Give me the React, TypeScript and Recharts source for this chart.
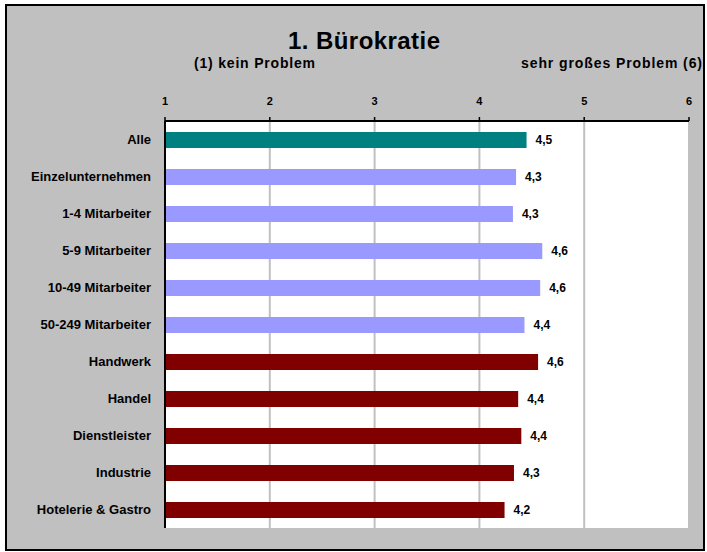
import React from 'react';
import { BarChart, Bar, XAxis, YAxis, CartesianGrid, Cell, LabelList } from 'recharts';

const categories = [
  'Alle',
  'Einzelunternehmen',
  '1-4 Mitarbeiter',
  '5-9 Mitarbeiter',
  '10-49 Mitarbeiter',
  '50-249 Mitarbeiter',
  'Handwerk',
  'Handel',
  'Dienstleister',
  'Industrie',
  'Hotelerie & Gastro',
];
const values = [4.45, 4.35, 4.32, 4.6, 4.58, 4.43, 4.56, 4.37, 4.4, 4.33, 4.24];
const groups = ['total', 'size', 'size', 'size', 'size', 'size', 'branch', 'branch', 'branch', 'branch', 'branch'];
const xTicks = [1, 2, 3, 4, 5, 6];
// category boundaries, Excel puts the y tick marks between the bars
const boundaryTicks = categories.map((_, i) => i).concat(categories.length);

const groupColors: Record<string, string> = {
  total: '#008080',
  size: '#9999ff',
  branch: '#800000',
};

const FONT = '"Liberation Sans", Arial, sans-serif';

const data = categories.map((name, i) => ({ name, value: values[i], group: groups[i] }));

const W = 707;
const H = 552;
const margin = { top: 91, right: 18, bottom: 24, left: 15 };

const fmt = (v: any) => Number(v).toFixed(1).replace('.', ',');

export default function App() {
  return (
    <div style={{ position: 'absolute', left: 0, top: 0, width: W, height: H, fontFamily: FONT }}>
      <div
        style={{
          position: 'absolute',
          left: 5,
          top: 4,
          width: 700,
          height: 547,
          boxSizing: 'border-box',
          border: '2.5px solid #000',
          background: '#c0c0c0',
        }}
      />
      <div style={{ position: 'absolute', left: 0, top: 0 }}>
        <BarChart width={W} height={H} data={data} layout="vertical" margin={margin}>
          <CartesianGrid horizontal={false} stroke="#c0c0c0" strokeWidth={2} fill="#ffffff" />
          <XAxis
            type="number"
            orientation="top"
            domain={[1, 6]}
            ticks={xTicks}
            allowDataOverflow
            height={30}
            axisLine={{ stroke: '#000', strokeWidth: 2 }}
            tickLine={{ stroke: '#000', strokeWidth: 1.5 }}
            tickSize={4}
            tickMargin={12}
            tick={{ fill: '#000', fontSize: 11, fontWeight: 'bold', fontFamily: FONT }}
          />
          <XAxis
            xAxisId="bottom"
            type="number"
            orientation="bottom"
            domain={[1, 6]}
            height={0}
            tick={false}
            tickLine={false}
            axisLine={{ stroke: '#8c8c8c', strokeWidth: 2.5 }}
          />
          <YAxis
            yAxisId="bounds"
            type="number"
            domain={[0, categories.length]}
            ticks={boundaryTicks}
            reversed
            width={0}
            tick={false}
            tickSize={6}
            tickLine={{ stroke: '#000', strokeWidth: 2 }}
            axisLine={false}
          />
          <YAxis
            type="category"
            dataKey="name"
            width={150}
            tickSize={5}
            tickMargin={9}
            tickLine={false}
            interval={0}
            axisLine={{ stroke: '#000', strokeWidth: 2 }}
            tick={{ fill: '#000', fontSize: 13, fontWeight: 'bold', fontFamily: FONT }}
          />
          <YAxis
            yAxisId="right"
            type="category"
            dataKey="name"
            orientation="right"
            width={0}
            tick={false}
            tickLine={false}
            axisLine={{ stroke: '#8c8c8c', strokeWidth: 2.5 }}
          />
          <Bar dataKey="value" barSize={16} isAnimationActive={false}>
            {data.map((d, i) => (
              <Cell key={i} fill={groupColors[d.group]} />
            ))}
            <LabelList
              dataKey="value"
              position="right"
              offset={9}
              formatter={fmt}
              fill="#000"
              fontSize={12}
              fontWeight="bold"
              fontFamily={FONT}
            />
          </Bar>
        </BarChart>
      </div>
      <svg width={W} height={120} style={{ position: 'absolute', left: 0, top: 0 }}>
        <text x={364} y={49} textAnchor="middle" fontFamily={FONT} fontWeight="bold" fontSize={24} textLength={152} fill="#000">
          1. Bürokratie
        </text>
        <text x={194} y={68} textAnchor="start" fontFamily={FONT} fontWeight="bold" fontSize={14} textLength={121} fill="#000">
          (1) kein Problem
        </text>
        <text x={702} y={68} textAnchor="end" fontFamily={FONT} fontWeight="bold" fontSize={14} textLength={181} fill="#000">
          sehr großes Problem (6)
        </text>
      </svg>
    </div>
  );
}
